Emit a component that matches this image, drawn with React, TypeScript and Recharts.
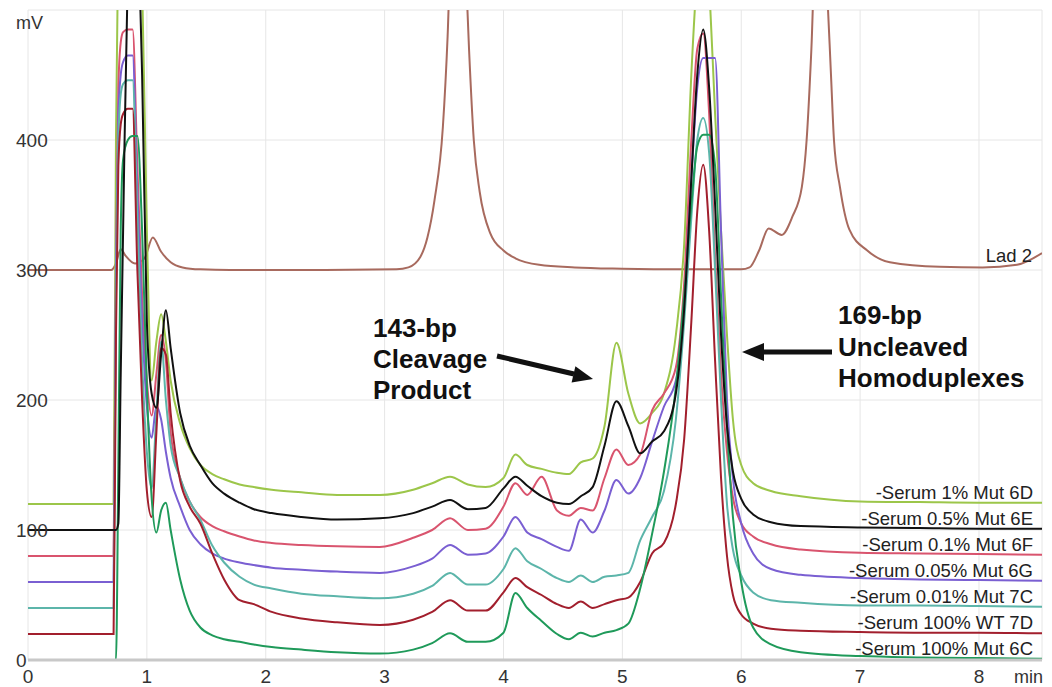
import React from 'react';
import { LineChart, Line, XAxis, YAxis, CartesianGrid } from 'recharts';

// retention times (min) shared by the sample traces
const times = [
  0, 0.72, 0.74, 0.76, 0.78, 0.8, 0.84, 0.88, 0.92, 0.96, 1.0, 1.04, 1.08, 1.12, 1.16, 1.2,
  1.28, 1.36, 1.45, 1.55, 1.65, 1.78, 1.9, 2.05, 2.3, 2.6, 2.96, 3.24, 3.4, 3.55, 3.7, 3.85,
  4.0, 4.1, 4.2, 4.32, 4.45, 4.55, 4.65, 4.75, 4.85, 4.95, 5.05, 5.15, 5.25, 5.35, 5.45, 5.52,
  5.58, 5.63, 5.68, 5.73, 5.78, 5.83, 5.88, 5.93, 6.0, 6.1, 6.25, 6.5, 7.0, 7.5, 8.0, 8.53,
];

const mut1 = [
  120, 120, 400, 560, 580, 590, 600, 600, 590, 520, 330, 215, 245, 266, 245, 215,
  182, 163, 150, 143, 139, 135, 133, 131, 129, 127, 127, 131, 136, 141, 135, 133,
  140, 158, 150, 147, 144, 143, 152, 155, 180, 244, 205, 182, 190, 205, 250, 320,
  450, 530, 580, 520, 420, 330, 250, 185, 150, 136, 130, 126, 122, 121.5, 121, 121,
];
const mut05 = [
  100, 100, 100, 105, 220, 330, 530, 580, 560, 450, 260, 205, 194, 235, 269, 240,
  190, 165, 150, 136, 128, 121, 116, 113, 110, 108, 109, 113, 118, 123, 116, 117,
  132, 141, 134, 126, 121, 120, 126, 133, 165, 199, 180, 159, 168, 176, 205, 270,
  370, 450, 485, 440, 350, 250, 180, 145, 124, 112, 106, 103, 102, 101.5, 101, 101,
];
const mut01 = [
  80, 80, 300, 440, 475, 483, 485, 485, 380, 280, 215, 188, 220, 250, 230, 175,
  140, 122, 110, 103, 99, 95, 92, 90, 88.5, 87.5, 87, 94, 100, 109, 100, 101,
  118, 136, 127, 141, 115, 111, 117, 115, 140, 162, 150, 158, 192, 205, 225, 290,
  400, 470, 482, 420, 310, 220, 160, 125, 105, 95, 89, 85, 82.5, 82, 81.5, 81,
];
const mut005 = [
  60, 60, 300, 420, 450, 460, 465, 465, 360, 260, 195, 171, 195, 185, 160, 140,
  118, 100, 89, 82, 78, 75, 73, 71, 69.5, 68, 67, 72, 78, 88.5, 81, 82,
  95, 110, 98, 93, 87, 84, 108, 98, 115, 138.5, 128, 140, 168, 195, 215, 270,
  370, 440, 463, 463, 463, 330, 200, 140, 105, 82, 70, 65.5, 63, 62, 61.5, 61,
];
const mut001 = [
  40, 40, 280, 400, 435, 443, 446, 446, 340, 230, 160, 132, 190, 245, 200, 165,
  140, 122, 108, 88, 75, 64, 58, 55, 51, 49, 47.5, 51, 57, 67, 58, 58,
  70, 86, 76, 70, 63, 60, 65, 60, 64, 65, 67, 92, 110, 130, 185, 260,
  340, 400, 417, 390, 300, 200, 120, 85, 65, 52, 46, 44, 42, 42, 41.5, 41,
];
const wt100 = [
  20, 20, 250, 380, 412, 420, 424, 424, 300, 200, 130, 110, 175, 240, 235, 190,
  138, 118, 105, 82, 62, 46, 43, 37, 32, 29, 27, 31, 37, 46, 38, 38,
  52, 63, 56, 50, 43, 40, 45, 40, 43, 46, 48, 60, 82, 90, 120, 170,
  260, 345, 381, 330, 230, 140, 80, 50, 35, 28, 24, 22.5, 21.5, 21, 21, 20.5,
];
const mut100 = [
  0, 0, 0, 150, 330, 385, 400, 403, 403, 330, 210, 125, 98, 115, 121, 100,
  62, 38, 25, 19, 16, 14, 12, 10, 8, 6, 5, 8, 13, 20.5, 14, 14,
  21, 51.5, 40, 30, 20, 16, 21, 18, 21, 23, 28, 55, 97, 145, 210, 280,
  350, 395, 404, 404, 380, 280, 180, 110, 60, 25, 12, 6, 3, 2, 1.5, 1,
];

// size ladder trace, sampled on its own times
const ladderTimes = [
  0, 0.7, 0.74, 0.78, 0.82, 0.9, 0.98, 1.05, 1.12, 1.2, 1.3, 1.45, 1.7, 2.5, 3.1, 3.2,
  3.3, 3.36, 3.42, 3.49, 3.53, 3.58, 3.62, 3.67, 3.71, 3.75, 3.8, 3.89, 4.0, 4.1, 4.3, 4.6,
  5.0, 5.5, 6.0, 6.07, 6.15, 6.23, 6.34, 6.43, 6.51, 6.55, 6.59, 6.65, 6.72, 6.755, 6.78, 6.83,
  6.91, 7.06, 7.25, 7.67, 8.03, 8.32, 8.53,
];
const ladder = [
  300, 300, 305, 316, 311, 305, 309, 325, 314, 306, 302, 300.5, 300, 300, 300.5, 302,
  310, 325, 354, 410, 480, 620, 640, 560, 470, 400, 360, 328, 315, 309, 304, 302,
  301, 300.5, 300.5, 302, 315, 332, 327, 341, 364, 400, 470, 620, 520, 450, 400, 364,
  331, 315, 306, 302.5, 302, 304, 313,
];

const xTicks = [0, 1, 2, 3, 4, 5, 6, 7, 8];
const yTicks = [0, 100, 200, 300, 400];

const series = [
  { key: 'mut1', name: '-Serum 1% Mut 6D', values: mut1, color: '#9cc64a' },
  { key: 'mut01', name: '-Serum 0.1% Mut 6F', values: mut01, color: '#d9546e' },
  { key: 'mut005', name: '-Serum 0.05% Mut 6G', values: mut005, color: '#7a5fd2' },
  { key: 'mut001', name: '-Serum 0.01% Mut 7C', values: mut001, color: '#5cb5aa' },
  { key: 'wt100', name: '-Serum 100% WT 7D', values: wt100, color: '#a21f2d' },
  { key: 'mut100', name: '-Serum 100% Mut 6C', values: mut100, color: '#1f9a5a' },
  { key: 'mut05', name: '-Serum 0.5% Mut 6E', values: mut05, color: '#111111' },
];

const rows = times.map((t, i) => {
  const row: any = { t };
  series.forEach((s) => (row[s.key] = s.values[i]));
  return row;
});
const ladderRows = ladderTimes.map((t, i) => ({ t, lad: ladder[i] }));

const FONT = '"Liberation Sans", Arial, sans-serif';
const PLOT_TOP = 10;
const PLOT_H = 650;
const Y_MAX = 500;
const yPx = (v: number) => PLOT_TOP + ((Y_MAX - v) / Y_MAX) * PLOT_H;

const XTick = (props: any) => (
  <text x={props.x} y={683} textAnchor="middle" fontSize={19} fill="#333" fontFamily={FONT}>
    {props.payload.value}
  </text>
);

const YTick = (props: any) => (
  <text x={16} y={props.y + 7} textAnchor="start" fontSize={19} fill="#333" fontFamily={FONT}>
    {props.payload.value}
  </text>
);

export default function App() {
  return (
    <div style={{ position: 'absolute', left: 0, top: 0, width: 1052, height: 687, background: '#fff' }}>
      <LineChart width={1052} height={687} data={rows} margin={{ top: 10, right: 10, left: 0, bottom: 0 }}>
        <CartesianGrid stroke="#e6e6e6" />
        <XAxis
          dataKey="t"
          type="number"
          domain={[0, 8.53]}
          ticks={xTicks}
          height={27}
          allowDataOverflow
          axisLine={{ stroke: '#c8c8c8', strokeWidth: 3 }}
          tickLine={false}
          tick={XTick}
        />
        <YAxis
          type="number"
          domain={[0, Y_MAX]}
          ticks={yTicks}
          width={28}
          allowDataOverflow
          axisLine={false}
          tickLine={false}
          tick={YTick}
        />
        <Line
          data={ladderRows}
          dataKey="lad"
          type="monotone"
          stroke="#a86a5e"
          strokeWidth={2}
          dot={false}
          isAnimationActive={false}
        />
        {series.map((s) => (
          <Line
            key={s.key}
            dataKey={s.key}
            type="monotone"
            stroke={s.color}
            strokeWidth={2}
            dot={false}
            isAnimationActive={false}
          />
        ))}
      </LineChart>

      <svg
        width={1052}
        height={687}
        style={{ position: 'absolute', left: 0, top: 0, pointerEvents: 'none' }}
        fontFamily={FONT}
      >
        <text x={16} y={29} fontSize={18} fill="#333">mV</text>
        <text x={1043} y={683} fontSize={18} fill="#333" textAnchor="end">min</text>

        {series.map((s) => (
          <text
            key={s.key}
            x={1033}
            y={yPx(s.values[s.values.length - 1]) - 4}
            fontSize={18.5}
            fill="#222"
            textAnchor="end"
          >
            {s.name}
          </text>
        ))}
        <text x={1032} y={262} fontSize={18.5} fill="#222" textAnchor="end">Lad 2</text>

        <g fontSize={26} fontWeight="bold" fill="#111">
          <text x={373} y={337}>143-bp</text>
          <text x={373} y={368}>Cleavage</text>
          <text x={373} y={399}>Product</text>
          <text x={838} y={324}>169-bp</text>
          <text x={838} y={356}>Uncleaved</text>
          <text x={838} y={387}>Homoduplexes</text>
        </g>

        <line x1={497} y1={356} x2={574} y2={374} stroke="#111" strokeWidth={5} />
        <polygon points="593,379 571.6,382.4 575.4,366.2" fill="#111" />
        <line x1={832} y1={352} x2={760} y2={352} stroke="#111" strokeWidth={5} />
        <polygon points="742,352 764,343 764,361" fill="#111" />
      </svg>
    </div>
  );
}
